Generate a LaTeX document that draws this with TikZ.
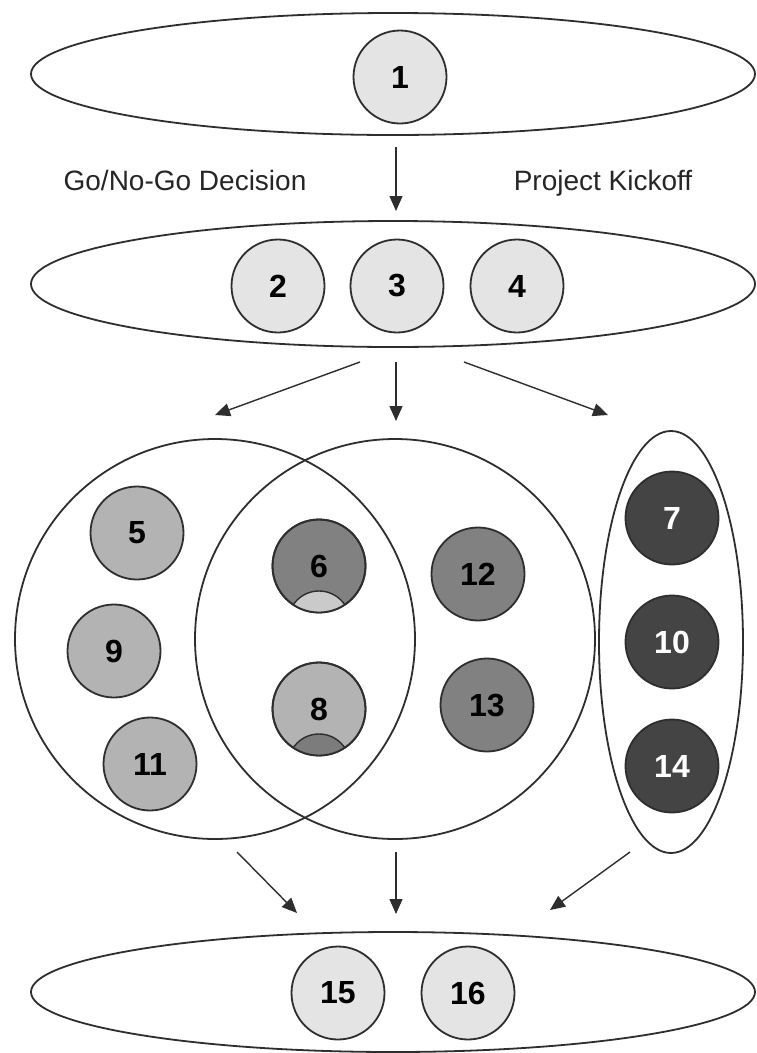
\documentclass[tikz,border=0pt]{standalone}
\usepackage{fontspec}
\setmainfont{Liberation Sans}
\usetikzlibrary{arrows.meta,shapes.geometric,calc}
\definecolor{edgec}{HTML}{2E2E2E}
\definecolor{lightf}{HTML}{E4E4E4}
\definecolor{midf}{HTML}{B3B3B3}
\definecolor{darkf}{HTML}{818181}
\definecolor{deepf}{HTML}{444444}
\definecolor{lensa}{HTML}{CACACA}
\definecolor{lensb}{HTML}{7C7C7C}
\begin{document}
\begin{tikzpicture}[x=1pt,y=-1pt,
  group/.style={draw=edgec,line width=1.8pt,ellipse,inner sep=0pt},
  ball/.style={circle,draw=edgec,line width=1.8pt,minimum size=93pt,inner sep=0pt,
     font=\fontsize{32}{32}\selectfont\bfseries},
  pale/.style={ball,fill=lightf},
  mid/.style={ball,fill=midf},
  dark/.style={ball,fill=darkf},
  deep/.style={ball,fill=deepf,text=white},
  flow/.style={draw=edgec,line width=1.4pt,-{Triangle[length=15pt,width=13pt]}},
  lab/.style={font=\fontsize{28}{28}\selectfont,text=black!85,anchor=base}
]
\useasboundingbox (0,0) rectangle (757,1053);
\fill[white] (0,0) rectangle (757,1053);

% group outlines
\node[group,minimum width=724pt,minimum height=122pt] (g1) at (393,74) {};
\node[group,minimum width=724pt,minimum height=126pt] (g2) at (393,284) {};
\draw[edgec,line width=1.8pt] (215,639) circle (200);
\draw[edgec,line width=1.8pt] (395,639) circle (200);
\node[group,minimum width=144pt,minimum height=422pt] (g4) at (671,642) {};
\node[group,minimum width=724pt,minimum height=120pt] (g5) at (393,992) {};

% nodes
\node[pale] (n1) at (400,77) {1};
\node[pale] (n2) at (278,286) {2};
\node[pale] (n3) at (397,286) {3};
\node[pale] (n4) at (517,286) {4};

\node[mid] (n5) at (137,533) {5};
\node[mid] (n9) at (114,651) {9};
\node[mid] (n11) at (150,764) {11};
\node[dark] (n6) at (319,566) {6};
\node[mid] (n8) at (319,709) {8};
\node[dark] (n12) at (478,574) {12};
\node[dark] (n13) at (487,705) {13};
\node[deep] (n7) at (672,518) {7};
\node[deep] (n10) at (672,642) {10};
\node[deep] (n14) at (672,766) {14};

\node[pale] (n15) at (338,993) {15};
\node[pale] (n16) at (468,993) {16};

% lenses at the bottom of 6 and 8
\begin{scope}
  \clip (n6.center) circle (46.5);
  \filldraw[fill=lensa,draw=edgec,line width=1.4pt] ($(n6.center)+(0,56)$) circle (31);
\end{scope}
\draw[edgec,line width=1.8pt] (n6.center) circle (46.5);
\begin{scope}
  \clip (n8.center) circle (46.5);
  \filldraw[fill=lensb,draw=edgec,line width=1.4pt] ($(n8.center)+(0,56)$) circle (31);
\end{scope}
\draw[edgec,line width=1.8pt] (n8.center) circle (46.5);

% labels
\node[lab] (l1) at (185,190) {Go/No-Go Decision};
\node[lab] (l2) at (603,190) {Project Kickoff};

% connector end points
\coordinate (a0) at (396,147);
\coordinate (a1) at (396,211);
\coordinate (b0) at (360,362);
\coordinate (b1) at (215,415);
\coordinate (c0) at (396,362);
\coordinate (c1) at (396,421);
\coordinate (d0) at (464,362);
\coordinate (d1) at (608,415);
\coordinate (e0) at (237,852);
\coordinate (e1) at (297,913);
\coordinate (f0) at (396,852);
\coordinate (f1) at (396,914);
\coordinate (h0) at (630,852);
\coordinate (h1) at (550,910);

\draw[flow] (a0) -- (a1);
\draw[flow] (b0) -- (b1);
\draw[flow] (c0) -- (c1);
\draw[flow] (d0) -- (d1);
\draw[flow] (e0) -- (e1);
\draw[flow] (f0) -- (f1);
\draw[flow] (h0) -- (h1);
\end{tikzpicture}
\end{document}
